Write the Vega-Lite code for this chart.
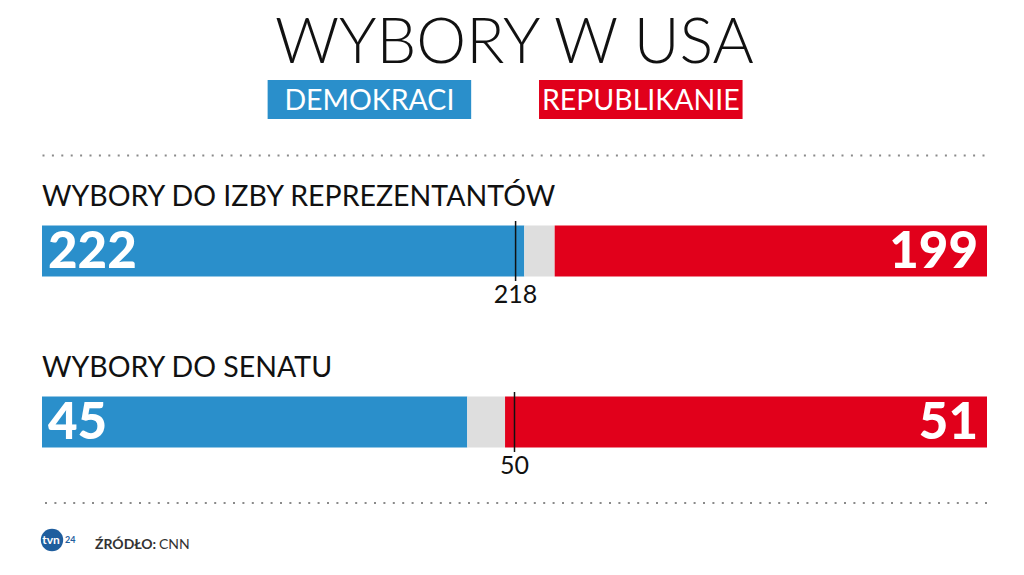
{
  "$schema": "https://vega.github.io/schema/vega-lite/v6.json",
  "background": "white",
  "padding": {"left": 40, "right": 39, "top": 13, "bottom": 0},
  "title": {"text": "WYBORY W USA", "font": "Lato", "fontSize": 63, "fontWeight": 300, "color": "#111111", "anchor": "middle", "offset": 4},
  "config": {"view": {"stroke": null}, "font": "Lato"},
  "datasets": {
    "seats": [
      {"izba": "Izba Reprezentantów", "partia": "Demokraci", "mandaty": 222, "kolejnosc": 1, "wiekszosc": 218},
      {"izba": "Izba Reprezentantów", "partia": "Nierozstrzygnięte", "mandaty": 14, "kolejnosc": 2, "wiekszosc": 218},
      {"izba": "Izba Reprezentantów", "partia": "Republikanie", "mandaty": 199, "kolejnosc": 3, "wiekszosc": 218},
      {"izba": "Senat", "partia": "Demokraci", "mandaty": 45, "kolejnosc": 1, "wiekszosc": 50},
      {"izba": "Senat", "partia": "Nierozstrzygnięte", "mandaty": 4, "kolejnosc": 2, "wiekszosc": 50},
      {"izba": "Senat", "partia": "Republikanie", "mandaty": 51, "kolejnosc": 3, "wiekszosc": 50}
    ],
    "legenda": [
      {"partia": "Demokraci", "etykieta": "DEMOKRACI"},
      {"partia": "Republikanie", "etykieta": "REPUBLIKANIE"}
    ],
    "zrodlo": [{"nazwa": "ŹRÓDŁO:", "zrodlo": "CNN", "logo": "tvn"}]
  },
  "resolve": {"scale": {"x": "independent", "y": "independent"}, "axis": {"x": "independent"}},
  "spacing": 27,
  "vconcat": [
    {
      "data": {"name": "legenda"},
      "width": 945,
      "height": 39,
      "encoding": {
        "x": {"field": "partia", "type": "nominal", "sort": null,
          "scale": {"paddingInner": 0.25, "paddingOuter": 0.866, "align": 0.48},
          "axis": {"orient": "bottom", "offset": 36, "domain": true, "domainColor": "#8a8a8a", "domainWidth": 2, "domainDash": [2, 7.4], "ticks": false, "labels": false, "title": null, "grid": false}}
      },
      "layer": [
        {"mark": {"type": "bar"},
          "encoding": {"color": {"field": "partia", "type": "nominal", "legend": null,
            "scale": {"domain": ["Demokraci", "Nierozstrzygnięte", "Republikanie"], "range": ["#2a8fcb", "#dedede", "#e1001b"]}}}},
        {"mark": {"type": "text", "color": "white", "fontSize": 28.5, "font": "Lato", "baseline": "middle", "dy": 1},
          "encoding": {"text": {"field": "etykieta"}}}
      ]
    },
    {
      "spacing": 23,
      "resolve": {"scale": {"x": "independent", "y": "independent"}, "axis": {"x": "independent"}},
      "vconcat": [
        {
          "spacing": 45,
          "resolve": {"scale": {"x": "independent", "y": "independent"}, "axis": {"x": "independent"}},
          "vconcat": [
            {
              "title": {"text": "WYBORY DO IZBY REPREZENTANTÓW", "anchor": "start", "font": "Lato", "fontSize": 28.5, "fontWeight": "normal", "color": "#111111", "baseline": "alphabetic", "offset": -14},
              "data": {"name": "seats"},
              "transform": [
                {"filter": "datum.izba === 'Izba Reprezentantów'"},
                {"joinaggregate": [{"op": "sum", "field": "mandaty", "as": "suma"}]}
              ],
              "width": 945,
              "height": 60,
              "layer": [
                {"mark": {"type": "bar"},
                  "encoding": {
                    "x": {"field": "mandaty", "type": "quantitative", "stack": "zero", "scale": {"nice": false, "zero": true}, "axis": null},
                    "y": {"field": "izba", "type": "nominal", "scale": {"paddingInner": 0, "paddingOuter": 0.088}, "axis": null},
                    "color": {"field": "partia", "type": "nominal", "legend": null,
                      "scale": {"domain": ["Demokraci", "Nierozstrzygnięte", "Republikanie"], "range": ["#2a8fcb", "#dedede", "#e1001b"]}},
                    "order": {"field": "kolejnosc"}
                  }},
                {"transform": [{"filter": "datum.partia === 'Demokraci'"}],
                  "mark": {"type": "rule", "color": "#111111", "strokeWidth": 1.5},
                  "encoding": {"x": {"field": "wiekszosc", "type": "quantitative", "axis": null}}},
                {"transform": [{"filter": "datum.partia === 'Demokraci'"}],
                  "mark": {"type": "text", "baseline": "top", "fontSize": 25, "color": "#111111", "dy": 32},
                  "encoding": {"x": {"field": "wiekszosc", "type": "quantitative", "axis": null}, "text": {"field": "wiekszosc"}}},
                {"transform": [{"filter": "datum.partia === 'Demokraci'"}],
                  "mark": {"type": "text", "align": "left", "baseline": "middle", "dx": 6, "dy": 2, "fontSize": 51, "fontWeight": 900, "color": "white"},
                  "encoding": {"x": {"datum": 0, "type": "quantitative", "axis": null},
                    "y": {"field": "izba", "type": "nominal", "axis": null},
                    "text": {"field": "mandaty"}}},
                {"transform": [{"filter": "datum.partia === 'Republikanie'"}],
                  "mark": {"type": "text", "align": "right", "baseline": "middle", "dx": -9, "dy": 2, "fontSize": 51, "fontWeight": 900, "color": "white"},
                  "encoding": {"x": {"field": "suma", "type": "quantitative", "axis": null},
                    "y": {"field": "izba", "type": "nominal", "axis": null},
                    "text": {"field": "mandaty"}}}
              ]
            },
            {
              "title": {"text": "WYBORY DO SENATU", "anchor": "start", "font": "Lato", "fontSize": 28.5, "fontWeight": "normal", "color": "#111111", "baseline": "alphabetic", "offset": -14},
              "data": {"name": "seats"},
              "transform": [
                {"filter": "datum.izba === 'Senat'"},
                {"joinaggregate": [{"op": "sum", "field": "mandaty", "as": "suma"}]}
              ],
              "width": 945,
              "height": 60,
              "layer": [
                {"mark": {"type": "bar"},
                  "encoding": {
                    "x": {"field": "mandaty", "type": "quantitative", "stack": "zero", "scale": {"nice": false, "zero": true}, "axis": null},
                    "y": {"field": "izba", "type": "nominal", "scale": {"paddingInner": 0, "paddingOuter": 0.088}, "axis": null},
                    "color": {"field": "partia", "type": "nominal", "legend": null,
                      "scale": {"domain": ["Demokraci", "Nierozstrzygnięte", "Republikanie"], "range": ["#2a8fcb", "#dedede", "#e1001b"]}},
                    "order": {"field": "kolejnosc"}
                  }},
                {"transform": [{"filter": "datum.partia === 'Demokraci'"}],
                  "mark": {"type": "rule", "color": "#111111", "strokeWidth": 1.5},
                  "encoding": {"x": {"field": "wiekszosc", "type": "quantitative", "axis": null}}},
                {"transform": [{"filter": "datum.partia === 'Demokraci'"}],
                  "mark": {"type": "text", "baseline": "top", "fontSize": 25, "color": "#111111", "dy": 32},
                  "encoding": {"x": {"field": "wiekszosc", "type": "quantitative", "axis": null}, "text": {"field": "wiekszosc"}}},
                {"transform": [{"filter": "datum.partia === 'Demokraci'"}],
                  "mark": {"type": "text", "align": "left", "baseline": "middle", "dx": 6, "dy": 2, "fontSize": 51, "fontWeight": 900, "color": "white"},
                  "encoding": {"x": {"datum": 0, "type": "quantitative", "axis": null},
                    "y": {"field": "izba", "type": "nominal", "axis": null},
                    "text": {"field": "mandaty"}}},
                {"transform": [{"filter": "datum.partia === 'Republikanie'"}],
                  "mark": {"type": "text", "align": "right", "baseline": "middle", "dx": -9, "dy": 2, "fontSize": 51, "fontWeight": 900, "color": "white"},
                  "encoding": {"x": {"field": "suma", "type": "quantitative", "axis": null},
                    "y": {"field": "izba", "type": "nominal", "axis": null},
                    "text": {"field": "mandaty"}}}
              ]
            }
          ]
        },
        {
          "data": {"name": "zrodlo"},
          "width": 945,
          "height": 56,
          "layer": [
            {"mark": {"type": "rule", "color": "#8a8a8a", "strokeWidth": 2, "strokeDash": [2, 7.4]},
              "encoding": {"y": {"value": 0}}},
            {"mark": {"type": "point", "shape": "circle", "filled": true, "color": "#1f5e9e", "opacity": 1, "size": 500},
              "encoding": {"x": {"value": 10}, "y": {"value": 37}}},
            {"mark": {"type": "text", "align": "center", "baseline": "middle", "fontSize": 12, "fontWeight": "bold", "color": "white"},
              "encoding": {"x": {"value": 9}, "y": {"value": 37}, "text": {"field": "logo"}}},
            {"mark": {"type": "text", "align": "left", "baseline": "middle", "fontSize": 9, "fontWeight": "bold", "color": "#1f5e9e"},
              "encoding": {"x": {"value": 23}, "y": {"value": 37}, "text": {"value": "24"}}},
            {"mark": {"type": "text", "align": "left", "baseline": "alphabetic", "fontSize": 14, "fontWeight": "bold", "color": "#333333"},
              "encoding": {"x": {"value": 53}, "y": {"value": 46}, "text": {"field": "nazwa"}}},
            {"mark": {"type": "text", "align": "left", "baseline": "alphabetic", "fontSize": 14, "color": "#333333"},
              "encoding": {"x": {"value": 117}, "y": {"value": 46}, "text": {"field": "zrodlo"}}}
          ]
        }
      ]
    }
  ]
}
